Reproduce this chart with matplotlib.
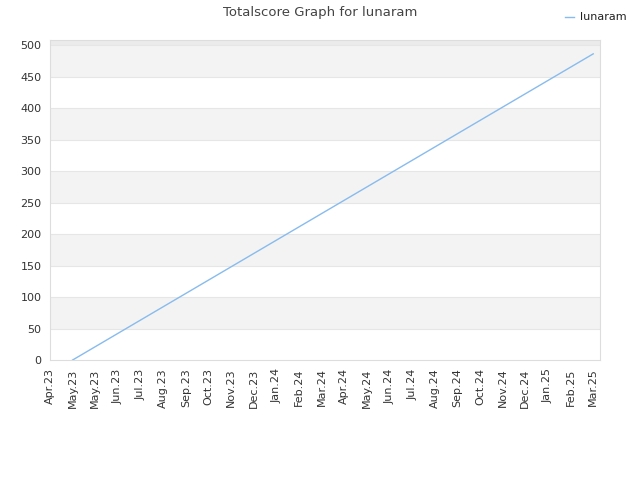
import matplotlib
matplotlib.use('Agg')
import matplotlib.pyplot as plt

months = ['Apr.23', 'May.23', 'May.23', 'Jun.23', 'Jul.23', 'Aug.23', 'Sep.23', 'Oct.23',
          'Nov.23', 'Dec.23', 'Jan.24', 'Feb.24', 'Mar.24', 'Apr.24', 'May.24', 'Jun.24',
          'Jul.24', 'Aug.24', 'Sep.24', 'Oct.24', 'Nov.24', 'Dec.24', 'Jan.25', 'Feb.25',
          'Mar.25']
# line runs from the 2nd tick to the last one
score_x = [1, 24]
score_y = [0, 486]

fig = plt.figure(figsize=(6.4, 4.8), dpi=100)
ax = fig.add_axes([50 / 640, 1 - 360 / 480, 550 / 640, 320 / 480])

# alternating bands every 50
for lo in range(50, 500, 100):
    ax.axhspan(lo, lo + 50, color='#f3f3f3', zorder=0, lw=0)
ax.axhspan(500, 508, color='#ebebeb', zorder=0, lw=0)
for y in range(50, 501, 50):
    ax.axhline(y, color='#e6e6e6', lw=0.8, zorder=1)

ax.plot(score_x, score_y, color='#88bbee', lw=1, label='lunaram', zorder=2)

ax.set_xlim(0, 24.3)
ax.set_ylim(0, 508)
ax.set_xticks(range(len(months)))
ax.set_xticklabels(months, rotation=90, fontsize=8, color='#333333')
ax.set_yticks(range(0, 501, 50))
ax.tick_params(axis='y', labelsize=8, labelcolor='#333333', length=0, pad=6)
ax.tick_params(axis='x', length=0, pad=6)
for s in ax.spines.values():
    s.set_color('#dddddd')

fig.suptitle('Totalscore Graph for lunaram', fontsize=9.5, color='#444444', y=0.987)
fig.legend(loc='upper right', bbox_to_anchor=(0.995, 0.995), frameon=False, fontsize=8,
           handlelength=0.8, handletextpad=0.6, labelcolor='#222222')

fig.savefig('out.png')
